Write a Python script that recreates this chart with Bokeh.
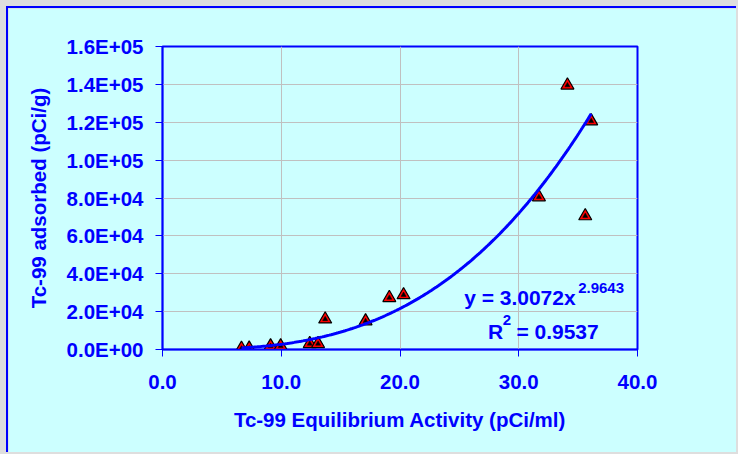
from bokeh.plotting import figure
from bokeh.models import FixedTicker, Label
from bokeh.embed import file_html
from bokeh.resources import INLINE
import numpy as np

# ---- data ----
activity = [6.65, 7.3, 9.1, 9.95, 12.4, 13.1, 13.7, 17.1, 19.1, 20.3, 31.7, 34.1, 35.6, 36.1]
adsorbed = [500, 600, 1800, 1800, 3000, 3000, 16000, 15000, 27300, 28800, 80500, 139500, 70500, 120600]

# power-law trendline coefficients as printed on the chart
fit_a = 3.0072
fit_b = 2.9643
fit_r2 = 0.9537

x_ticks = [0, 10, 20, 30, 40]
x_tick_labels = ["0.0", "10.0", "20.0", "30.0", "40.0"]
y_ticks = [0, 20000, 40000, 60000, 80000, 100000, 120000, 140000, 160000]
y_tick_labels = ["0.0E+00", "2.0E+04", "4.0E+04", "6.0E+04", "8.0E+04",
                 "1.0E+05", "1.2E+05", "1.4E+05", "1.6E+05"]

x_title = "Tc-99 Equilibrium Activity (pCi/ml)"
y_title = "Tc-99 adsorbed (pCi/g)"

BLUE = "#0000FF"
BG = "#CCFFFF"
FONT = "Liberation Sans"

p = figure(width=730, height=446, x_range=(0, 40), y_range=(0, 160000),
           output_backend="svg", toolbar_location=None,
           min_border_left=154, min_border_right=101,
           min_border_top=38, min_border_bottom=105)
p.styles = {"border-left": "2px solid #0000FF", "border-top": "2px solid #0000FF"}

p.background_fill_color = BG
p.border_fill_color = BG
p.outline_line_color = BLUE
p.outline_line_width = 2

for ax in (p.xaxis[0], p.yaxis[0]):
    ax.axis_line_color = BLUE
    ax.axis_line_width = 1.5
    ax.major_tick_line_color = BLUE
    ax.major_tick_line_width = 1
    ax.major_tick_out = 7
    ax.major_tick_in = 0
    ax.minor_tick_line_color = None
    ax.major_label_text_font = FONT
    ax.major_label_text_font_style = "bold"
    ax.major_label_text_font_size = "20.5px"
    ax.major_label_text_color = BLUE
    ax.axis_label_text_font = FONT
    ax.axis_label_text_font_style = "bold"
    ax.axis_label_text_font_size = "20.5px"
    ax.axis_label_text_color = BLUE

p.xaxis.ticker = FixedTicker(ticks=x_ticks)
p.yaxis.ticker = FixedTicker(ticks=y_ticks)
p.xaxis.major_label_overrides = {t: l for t, l in zip(x_ticks, x_tick_labels)}
p.yaxis.major_label_overrides = {t: l for t, l in zip(y_ticks, y_tick_labels)}
p.xaxis.axis_label = x_title
p.yaxis.axis_label = y_title
p.xaxis.major_label_standoff = 18
p.yaxis.major_label_standoff = 12
p.xaxis.axis_label_standoff = 16
p.yaxis.axis_label_standoff = 14

p.xgrid.ticker = FixedTicker(ticks=x_ticks)
p.ygrid.ticker = FixedTicker(ticks=y_ticks)
p.grid.grid_line_color = "#C0C0C0"
p.grid.grid_line_width = 1

# markers
p.scatter(activity, adsorbed, marker="triangle", size=13,
          fill_color="#FF0000", line_color="black", line_width=1.2)
p.scatter(activity, adsorbed, marker="triangle", size=5,
          fill_color="black", line_color="black", line_width=0.5)

# trendline from the printed fit
xs = np.linspace(min(activity), max(activity), 200)
ys = fit_a * xs ** fit_b
p.line(xs, ys, line_color=BLUE, line_width=3)

# equation labels
def lab(x, y, text, size):
    p.add_layout(Label(x=x, y=y, text=text, text_font=FONT, text_font_style="bold",
                       text_font_size=size, text_color=BLUE,
                       text_align="left", text_baseline="alphabetic"))

lab(25.4, 27200, f"y = {fit_a:.4f}x", "21px")
lab(35.0, 32700, f"{fit_b:.4f}", "15px")
lab(27.4, 9400, "R", "21px")
lab(28.65, 15800, "2", "15px")
lab(29.8, 9400, f"= {fit_r2:.4f}", "21px")

html = file_html(p, INLINE)
html = html.replace("<head>", "<head><style>body{background:#DEDEDE;padding:6px 0 0 6px !important;overflow:hidden;}</style>", 1)
open("out.html", "w").write(html)
